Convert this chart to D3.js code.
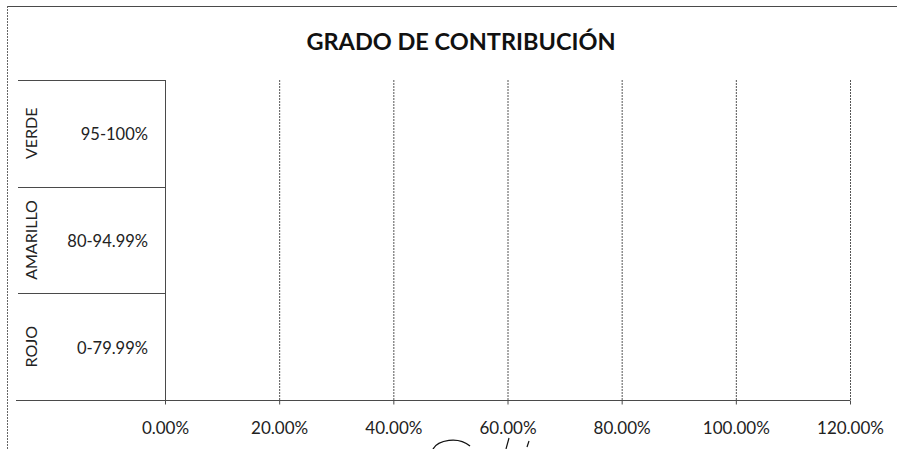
<!DOCTYPE html>
<html>
<head>
<meta charset="utf-8">
<script src="https://cdn.jsdelivr.net/npm/d3@7"></script>
<style>
  body { margin: 0; background: #fff; }
  svg { display: block; font-family: Lato, "Liberation Sans", sans-serif; }
</style>
</head>
<body>
<svg id="chart"></svg>
<script>
// datos del grafico
var title = 'GRADO DE CONTRIBUCIÓN';
var categorias = ['VERDE', 'AMARILLO', 'ROJO'];
var rangos = ['95-100%', '80-94.99%', '0-79.99%'];
var valores = [0, 0, 0];
var ticks = [0, 0.2, 0.4, 0.6, 0.8, 1.0, 1.2];

var W = 897, H = 449;
var svg = d3.select('#chart').attr('width', W).attr('height', H);

var lineColor = '#4a4a4a';

// borde exterior (solo arriba e izquierda visibles)
svg.append('line').attr('x1', 7).attr('x2', W).attr('y1', 6.5).attr('y2', 6.5)
    .attr('stroke', lineColor).attr('stroke-width', 1.2);
svg.append('line').attr('x1', 7.5).attr('x2', 7.5).attr('y1', 6).attr('y2', H)
    .attr('stroke', '#666').attr('stroke-width', 1).attr('stroke-dasharray', '2,1');

// titulo
svg.append('text')
    .attr('x', 461).attr('y', 50)
    .attr('text-anchor', 'middle')
    .attr('font-size', 23.5).attr('font-weight', 'bold')
    .attr('fill', '#111')
    .text(title);

// escalas
var x = d3.scaleLinear().domain([0, 1.2]).range([165, 850]);
var y = d3.scaleBand().domain(categorias).range([80, 400]);

// lineas de cuadricula
svg.selectAll('.grid')
    .data(ticks.slice(1))
    .enter()
    .append('line')
    .attr('x1', function (d) { return x(d) + 0.5; })
    .attr('x2', function (d) { return x(d) + 0.5; })
    .attr('y1', 80).attr('y2', 400)
    .attr('stroke', '#555').attr('stroke-width', 1)
    .attr('stroke-dasharray', '2,1');

// barras (todas en cero)
svg.selectAll('.bar')
    .data(valores)
    .enter()
    .append('rect')
    .attr('x', x(0))
    .attr('y', function (d, i) { return y(categorias[i]) + y.bandwidth() * 0.2; })
    .attr('width', function (d) { return x(d) - x(0); })
    .attr('height', y.bandwidth() * 0.6)
    .attr('fill', '#4f81bd');

// eje x
var xAxis = d3.axisBottom(x)
    .tickValues(ticks)
    .tickFormat(d3.format('.2%'))
    .tickSize(4)
    .tickPadding(17);

var gx = svg.append('g')
    .attr('transform', 'translate(0,400.5)')
    .call(xAxis);
gx.select('.domain').remove();
gx.selectAll('line').attr('stroke', lineColor);
gx.selectAll('text')
    .attr('font-size', 17)
    .attr('fill', '#222')
    .attr('font-family', 'Lato, sans-serif');

// linea del eje horizontal (se extiende sobre las etiquetas)
svg.append('line').attr('x1', 16).attr('x2', 850).attr('y1', 400.5).attr('y2', 400.5)
    .attr('stroke', lineColor).attr('stroke-width', 1.2);

// eje de categorias
svg.append('line').attr('x1', 165.5).attr('x2', 165.5).attr('y1', 80).attr('y2', 404)
    .attr('stroke', lineColor).attr('stroke-width', 1);

svg.selectAll('.sep')
    .data(categorias)
    .enter()
    .append('line')
    .attr('x1', 18).attr('x2', 165)
    .attr('y1', function (d) { return Math.round(y(d)) + 0.5; })
    .attr('y2', function (d) { return Math.round(y(d)) + 0.5; })
    .attr('stroke', lineColor).attr('stroke-width', 1.2);

// etiquetas de grupo (verticales)
svg.selectAll('.cat')
    .data(categorias)
    .enter()
    .append('text')
    .attr('transform', function (d) {
        return 'translate(37,' + (y(d) + y.bandwidth() / 2) + ') rotate(-90)';
    })
    .attr('text-anchor', 'middle')
    .attr('font-size', 16)
    .attr('fill', '#222')
    .text(function (d) { return d; });

// etiquetas de rango
svg.selectAll('.rango')
    .data(rangos)
    .enter()
    .append('text')
    .attr('x', 148)
    .attr('y', function (d, i) { return y(categorias[i]) + y.bandwidth() / 2 + 7; })
    .attr('text-anchor', 'end')
    .attr('font-size', 16.5)
    .attr('fill', '#222')
    .text(function (d) { return d; });

// firma a mano (marca del escaneo)
svg.append('path')
    .attr('d', 'M433,449 C438,440 458,436 470,446')
    .attr('fill', 'none').attr('stroke', '#111').attr('stroke-width', 1.4);
svg.append('path')
    .attr('d', 'M509,438 L506,449 M529,441 L527,447')
    .attr('fill', 'none').attr('stroke', '#111').attr('stroke-width', 1.2);
</script>
</body>
</html>
